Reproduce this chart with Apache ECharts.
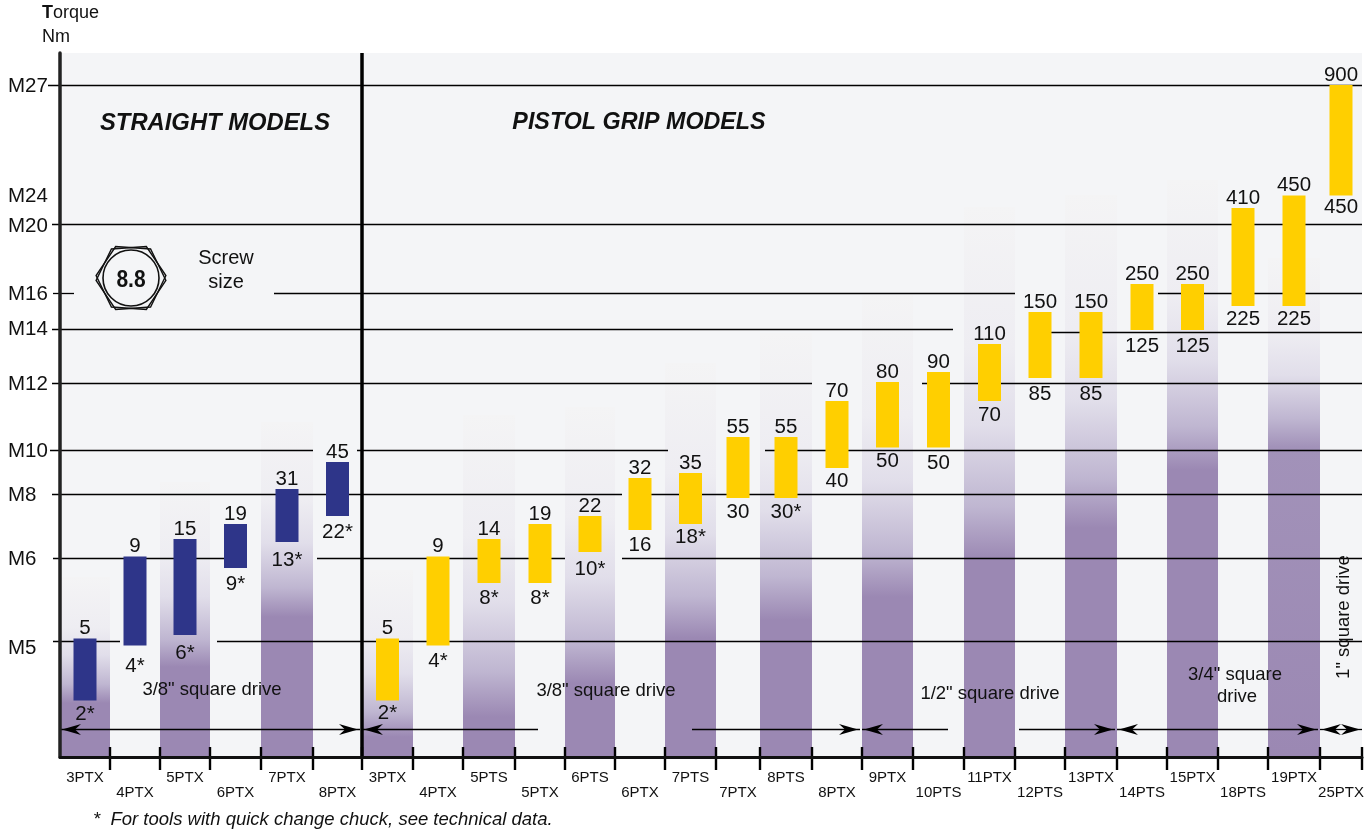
<!DOCTYPE html>
<html>
<head>
<meta charset="utf-8">
<title>Torque chart</title>
<script src="https://cdn.jsdelivr.net/npm/echarts@6/dist/echarts.min.js"></script>
<style>
  html, body { margin: 0; padding: 0; background: #fff; }
  #chart { width: 1365px; height: 833px; }
</style>
</head>
<body>
<div id="chart"></div>
<script>
// straight models
const straightModels = ['3PTX', '4PTX', '5PTX', '6PTX', '7PTX', '8PTX']
const straightHigh = [5, 9, 15, 19, 31, 45]
const straightLow = [2, 4, 6, 8.5, 13, 22]
const straightLowLabels = ['2*', '4*', '6*', '9*', '13*', '22*']

// pistol grip models
const pistolModels = ['3PTX', '4PTX', '5PTS', '5PTX', '6PTS', '6PTX', '7PTS', '7PTX', '8PTS', '8PTX', '9PTX', '10PTS', '11PTX',
  '12PTS', '13PTX', '14PTS', '15PTX', '18PTS', '19PTX', '25PTX']
const pistolHigh = [5, 9, 14, 19, 22, 32, 35, 55, 55, 70, 80, 90, 110, 150, 150, 250, 250, 410, 450, 900]
const pistolLow = [2, 4, 8, 8, 10, 16, 18, 30, 30, 40, 50, 50, 70, 85, 85, 125, 125, 225, 225, 450]
const pistolLowLabels = ['2*', '4*', '8*', '8*', '10*', '16', '18*', '30', '30*', '40', '50', '50', '70', '85', '85', '125', '125',
  '225', '225', '450']

// the torque scale of the picture is not linear or log, it follows the screw sizes
const scaleTorque = [2, 4, 5, 6, 8, 8.5, 9, 10, 13, 14, 15, 16, 18, 19, 22, 30, 31, 32, 35, 40, 45, 50, 55, 70, 80, 85, 90, 110, 125,
  150, 225, 250, 410, 450, 900]
const scaleUnits = [56.5, 111.5, 118.5, 122, 174, 189, 200.5, 205, 215, 218, 218, 227, 233, 233, 241, 259, 268, 279, 284, 289, 295,
  309.5, 320, 356, 375, 379, 385, 413, 427, 445, 451, 473, 549, 561.5, 672]

// screw sizes on the y axis
const screwLabels = ['M27', 'M24', 'M20', 'M16', 'M14', 'M12', 'M10', 'M8', 'M6', 'M5']
const screwLabelUnits = [671, 561, 531, 463, 428, 373, 306, 262, 198, 109]

// rule lines: [axis units, from x, to x], broken where text sits on them
const ruleSegments = [
  [672, 48, 1362], [533, 52, 1362],
  [464, 53, 74], [464, 274, 1015], [464, 1158, 1362],
  [428, 52, 953], [425, 1029, 1362],
  [374, 52, 812], [374, 922, 1362],
  [307, 50, 313], [307, 357, 668], [307, 765, 1362],
  [263, 52, 622], [263, 651, 1362],
  [199, 53, 246], [199, 317, 565], [199, 622, 1362],
  [116, 53, 120], [116, 217, 1362]
]

// column edges on the x axis, the columns are not all the same width
const columnEdges = [60, 110, 160, 210, 261, 313, 362, 413, 463, 515, 565, 615, 665, 716, 760, 812, 862, 913, 964, 1015, 1065, 1117,
  1167, 1218, 1268, 1320, 1362]

// purple background columns (every second one): where the fade starts and where it is solid
const fadeTop = [180, 275, 335, 187, 342, 350, 394, 424, 462, 550, 562, 577, 499]
const fadeSolid = [54, 90, 140, 20, 40, 74, 119, 137, 160, 197, 229, 287, 310]

// drive size arrows: [from x, to x, head on left, head on right]
const arrowUnits = 28
const arrowSpans = [
  [60, 360, 1, 1], [362, 538, 1, 0], [692, 860, 0, 1], [862, 948, 1, 0], [1019, 1115, 0, 1], [1117, 1318, 1, 1], [1320, 1341, 1, 0], [1341, 1362, 0, 1]
]

// small moves for the lower labels, they do not sit evenly under the bars
const straightLowNudge = [1, 8, 5, 3, 5, 3]
const pistolLowNudge = [0, 3, 2, 2, 4, 2, 0, 1, 1, 0, 1, 3, 1, 3, 3, 3, 3, 0, 0, -1]

const allModels = straightModels.concat(pistolModels)
const bandCentres = allModels.map((m, i) => (columnEdges[i] + columnEdges[i + 1]) / 2)

function torqueToUnits (v) {
  for (let i = 0; i < scaleTorque.length - 1; i++) {
    if (v <= scaleTorque[i + 1]) {
      const t = (v - scaleTorque[i]) / (scaleTorque[i + 1] - scaleTorque[i])
      return scaleUnits[i] + t * (scaleUnits[i + 1] - scaleUnits[i])
    }
  }
  return scaleUnits[scaleUnits.length - 1]
}

const FONT = '"Liberation Sans", Arial, sans-serif'
const TEXT = '#111'

function barItem (color) {
  return function (params, api) {
    const x = api.value(0)
    const high = api.coord([x, api.value(1)])
    const low = api.coord([x, api.value(2)])
    const label = (text, y) => ({
      type: 'text',
      style: { text: text, x: high[0], y: y, align: 'center', verticalAlign: 'middle', fill: TEXT, font: '20.5px ' + FONT }
    })
    return {
      type: 'group',
      children: [
        { type: 'rect', shape: { x: high[0] - 11.5, y: high[1], width: 23, height: low[1] - high[1] }, style: { fill: color } },
        label(api.value(3), high[1] - 10),
        label(api.value(4), low[1] + 13 + api.value(5))
      ]
    }
  }
}

function barData (high, low, lowLabels, offset, nudge) {
  return high.map((h, i) => [bandCentres[i + offset], torqueToUnits(h), torqueToUnits(low[i]), String(h), lowLabels[i], nudge[i]])
}

const columnData = fadeTop.map((top, i) => [columnEdges[i * 2], columnEdges[i * 2 + 1], top, fadeSolid[i]])

const chart = echarts.init(document.getElementById('chart'))

// bolt symbol, two hexagons a little out of line
function hexagon (turn) {
  const pts = []
  for (let i = 0; i < 6; i++) {
    const a = (i * 60 + turn) * Math.PI / 180
    pts.push([131 + 35 * Math.cos(a), 278 + 35 * Math.sin(a)])
  }
  return {
    type: 'polygon', z: 100, shape: { points: pts },
    style: { fill: 'none', stroke: '#111', lineWidth: 1.4 }
  }
}

function note (text, x, y, size, extra) {
  return {
    type: 'text', z: 100, x: x, y: y, rotation: (extra && extra.rotation) || 0,
    style: Object.assign({ text: text, align: 'center', verticalAlign: 'middle', fill: TEXT, font: size + 'px ' + FONT }, (extra && extra.style) || {})
  }
}

chart.setOption({
  animation: false,
  backgroundColor: '#fff',
  grid: { left: 60, right: 3, top: 53, bottom: 76, show: true, backgroundColor: '#f4f5f7', borderWidth: 0, outerBoundsMode: 'none' },
  xAxis: {
    type: 'value', min: 60, max: 1362, z: 4,
    splitLine: { show: false },
    axisTick: { show: false },
    axisLine: { show: true, onZero: false, lineStyle: { color: '#111', width: 3 } },
    axisLabel: {
      customValues: bandCentres,
      margin: 13, color: TEXT, fontFamily: 'Liberation Sans', fontSize: 15, lineHeight: 15,
      hideOverlap: false, showMinLabel: true, showMaxLabel: true,
      formatter: function (value) {
        const i = bandCentres.indexOf(value)
        return (i % 2 ? '\n' : '') + allModels[i]
      }
    }
  },
  yAxis: {
    type: 'value', min: 0, max: 704, z: 4,
    splitLine: { show: false },
    axisTick: { show: false },
    axisLine: { show: true, onZero: false, lineStyle: { color: '#222', width: 3.5 } },
    axisLabel: {
      customValues: screwLabelUnits,
      align: 'left', margin: 52, color: TEXT, fontFamily: 'Liberation Sans', fontSize: 20.5,
      formatter: function (value) { return screwLabels[screwLabelUnits.indexOf(value)] }
    }
  },
  series: [
    {
      name: 'columns', type: 'custom', z: 1, silent: true,
      data: columnData,
      encode: { x: [0, 1], y: [2, 3] },
      renderItem: function (params, api) {
        const a = api.coord([api.value(0), api.value(2)])
        const b = api.coord([api.value(1), 0])
        const t = (api.value(2) - api.value(3)) / api.value(2)
        // the last column stays a bit paler after the fade
        const solid = params.dataIndex === fadeTop.length - 1 ? '#a292b9' : '#9b88b3'
        return {
          type: 'rect',
          shape: { x: a[0], y: a[1], width: b[0] - a[0], height: b[1] - a[1] },
          style: {
            fill: new echarts.graphic.LinearGradient(0, 0, 0, 1, [
              { offset: 0, color: '#f4f4f5' },
              { offset: t * 0.4, color: '#eeedf2' },
              { offset: t * 0.62, color: '#e1deea' },
              { offset: t * 0.85, color: '#bfb6d1' },
              { offset: t, color: solid },
              { offset: 1, color: '#9b88b3' }
            ])
          }
        }
      }
    },
    {
      name: 'rules', type: 'custom', z: 2, silent: true,
      data: ruleSegments.map(s => [s[1], s[2], s[0]]),
      encode: { x: [0, 1], y: 2 },
      renderItem: function (params, api) {
        const a = api.coord([api.value(0), api.value(2)])
        const b = api.coord([api.value(1), api.value(2)])
        return {
          type: 'line',
          shape: { x1: a[0], y1: a[1] + 0.5, x2: b[0], y2: a[1] + 0.5 },
          style: { stroke: '#000', lineWidth: 1.3 }
        }
      }
    },
    {
      name: 'edges', type: 'custom', z: 3, silent: true,
      data: columnEdges.slice(1),
      encode: { x: 0 },
      renderItem: function (params, api) {
        const p = api.coord([api.value(0), 0])
        return {
          type: 'line',
          shape: { x1: p[0], y1: p[1] - 10, x2: p[0], y2: p[1] + 13 },
          style: { stroke: '#000', lineWidth: 2.4 }
        }
      }
    },
    {
      name: 'divider', type: 'custom', z: 3, silent: true,
      data: [[columnEdges[6]]],
      encode: { x: 0 },
      renderItem: function (params, api) {
        const a = api.coord([api.value(0), 704])
        const b = api.coord([api.value(0), 0])
        return {
          type: 'line',
          shape: { x1: a[0], y1: a[1], x2: a[0], y2: b[1] },
          style: { stroke: '#000', lineWidth: 3.5 }
        }
      }
    },
    {
      name: 'drive arrows', type: 'custom', z: 3, silent: true,
      data: arrowSpans,
      encode: { x: [0, 1] },
      renderItem: function (params, api) {
        const a = api.coord([api.value(0), arrowUnits])
        const b = api.coord([api.value(1), arrowUnits])
        const y = a[1] + 0.5
        const head = (x, dir) => ({
          type: 'polygon',
          shape: { points: [[x, y], [x + dir * 19, y - 5.5], [x + dir * 13, y], [x + dir * 19, y + 5.5]] },
          style: { fill: '#000' }
        })
        const children = [{ type: 'line', shape: { x1: a[0], y1: y, x2: b[0], y2: y }, style: { stroke: '#000', lineWidth: 1.3 } }]
        if (api.value(2)) children.push(head(a[0] + 2, 1))
        if (api.value(3)) children.push(head(b[0] - 2, -1))
        return { type: 'group', children: children }
      }
    },
    {
      name: 'Straight models', type: 'custom', z: 5, silent: true,
      data: barData(straightHigh, straightLow, straightLowLabels, 0, straightLowNudge),
      encode: { x: 0, y: [1, 2] },
      renderItem: barItem('#2e3589')
    },
    {
      name: 'Pistol grip models', type: 'custom', z: 5, silent: true,
      data: barData(pistolHigh, pistolLow, pistolLowLabels, straightModels.length, pistolLowNudge),
      encode: { x: 0, y: [1, 2] },
      renderItem: barItem('#ffcf00')
    }
  ],
  graphic: [
    {
      type: 'text', z: 100, x: 42, y: 13,
      style: { text: '{b|T}orque', verticalAlign: 'middle', fill: TEXT, font: '18px ' + FONT, rich: { b: { fontWeight: 'bold', fontSize: 18, fontFamily: 'Liberation Sans' } } }
    },
    { type: 'text', z: 100, x: 42, y: 37, style: { text: 'Nm', verticalAlign: 'middle', fill: TEXT, font: '18px ' + FONT } },
    note('STRAIGHT MODELS', 215, 123, 24, { style: { font: 'italic bold 23.8px ' + FONT } }),
    note('PISTOL GRIP MODELS', 639, 123, 24, { style: { font: 'italic bold 23.3px ' + FONT } }),
    hexagon(-4),
    hexagon(4),
    {
      type: 'circle', z: 100, shape: { cx: 131, cy: 278, r: 28 },
      style: { fill: '#f4f5f7', stroke: '#111', lineWidth: 1.6 }
    },
    Object.assign(note('8.8', 131, 280, 21, { style: { font: 'bold 21px ' + FONT } }), { scaleY: 1.15 }),
    note('Screw', 226, 258, 20),
    note('size', 226, 282, 20),
    note('3/8" square drive', 212, 690, 18.5),
    note('3/8" square drive', 606, 691, 18.5),
    note('1/2" square drive', 990, 694, 18.5),
    note('3/4" square', 1235, 675, 18.5),
    note('drive', 1237, 697, 18.5),
    note('1" square drive', 1344, 617, 18.5, { rotation: Math.PI / 2 }),
    {
      type: 'text', z: 100, x: 93, y: 820,
      style: { text: '*  For tools with quick change chuck, see technical data.', verticalAlign: 'middle', fill: TEXT, font: 'italic 18.5px ' + FONT }
    }
  ]
})

window.addEventListener('resize', () => { chart.resize() })
</script>
</body>
</html>
